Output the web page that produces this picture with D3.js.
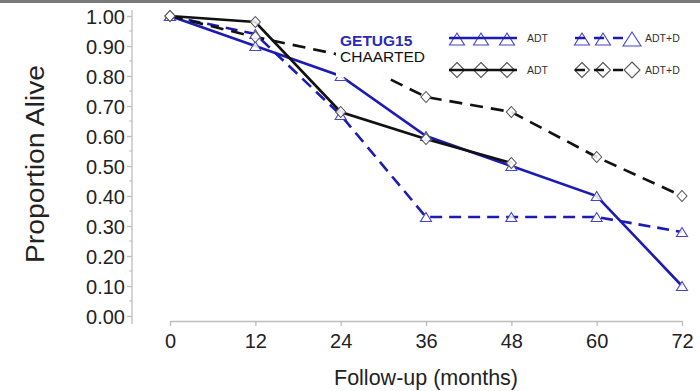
<!DOCTYPE html>
<html>
<head>
<meta charset="utf-8">
<script src="https://cdn.jsdelivr.net/npm/d3@7"></script>
<style>
  html, body { margin: 0; padding: 0; background: #fff; }
  svg { display: block; font-family: Arial, "Liberation Sans", Helvetica, sans-serif; }
</style>
</head>
<body>
<svg id="chart" width="700" height="391"></svg>
<script>
// Follow-up time points (months)
const months = [0, 12, 24, 36, 48, 60, 72];

// Proportion alive per study arm
const getugAdt  = [1.00, 0.90, 0.80, 0.60, 0.50, 0.40, 0.10];
const getugAdtD = [1.00, 0.94, 0.67, 0.33, 0.33, 0.33, 0.28];
const chaartedAdt  = [1.00, 0.98, 0.68, 0.59, 0.51];
const chaartedAdtD = [1.00, 0.93, 0.87, 0.73, 0.68, 0.53, 0.40];

const yTicks = [0, 0.1, 0.2, 0.3, 0.4, 0.5, 0.6, 0.7, 0.8, 0.9, 1.0];
const yMinorTicks = [0.05, 0.15, 0.25, 0.35, 0.45, 0.55, 0.65, 0.75, 0.85, 0.95];

const BLUE = "#1c1cb4";
const BLUE_MARK = "#4646c8";
const BLACK = "#111111";
const GREY_MARK = "#555555";

const series = [
  { name: "GETUG15 ADT",    values: getugAdt,     color: BLUE,  mark: BLUE_MARK, dash: null,   shape: "tri" },
  { name: "GETUG15 ADT+D",  values: getugAdtD,    color: BLUE,  mark: BLUE_MARK, dash: "12,7", shape: "tri" },
  { name: "CHAARTED ADT",   values: chaartedAdt,  color: BLACK, mark: GREY_MARK, dash: null,   shape: "dia" },
  { name: "CHAARTED ADT+D", values: chaartedAdtD, color: BLACK, mark: GREY_MARK, dash: "13,8", shape: "dia" }
];

const svg = d3.select("#chart");

// thin grey band along the top edge
svg.append("rect").attr("x", 0).attr("y", 0).attr("width", 700).attr("height", 3).attr("fill", "#7a7a7a");

const x = d3.scaleLinear().domain([0, 72]).range([170, 682]);
const y = d3.scaleLinear().domain([0, 1]).range([316, 16]);

const axisColor = "#bdbdbd";
const textColor = "#222";

// Y axis
const yAxisX = 132;
const yAxis = svg.append("g").attr("transform", `translate(${yAxisX},0)`)
  .call(d3.axisLeft(y).tickValues(yTicks).tickFormat(d3.format(".2f")).tickSize(5).tickSizeOuter(0));
yAxis.select(".domain").remove();
yAxis.append("line").attr("x1", 0).attr("x2", 0).attr("y1", 10).attr("y2", 324).attr("stroke", axisColor).attr("stroke-width", 1.3);
yAxis.selectAll(".tick line").attr("stroke", axisColor).attr("stroke-width", 1.3);
yAxis.selectAll(".tick text").attr("fill", textColor).attr("font-size", 20).attr("x", -7).attr("dy", "0.35em")
  .style("font-family", "Arial, 'Liberation Sans', sans-serif");
yAxis.selectAll(".minor").data(yMinorTicks).enter().append("line")
  .attr("x1", -3).attr("x2", 0).attr("y1", d => y(d)).attr("y2", d => y(d))
  .attr("stroke", axisColor).attr("stroke-width", 1);

// X axis
const xAxisY = 321;
const xAxis = svg.append("g").attr("transform", `translate(0,${xAxisY})`)
  .call(d3.axisBottom(x).tickValues(months).tickFormat(d3.format("d")).tickSize(5).tickSizeOuter(0));
xAxis.select(".domain").attr("stroke", axisColor).attr("stroke-width", 1.3);
xAxis.selectAll(".tick line").attr("stroke", axisColor).attr("stroke-width", 1.3);
xAxis.selectAll(".tick text").attr("fill", textColor).attr("font-size", 20).attr("y", 13)
  .style("font-family", "Arial, 'Liberation Sans', sans-serif");

// Axis titles
svg.append("text").attr("x", 426).attr("y", 385).attr("text-anchor", "middle")
  .attr("font-size", 21.5).attr("fill", textColor).text("Follow-up (months)");
svg.append("text").attr("transform", "translate(44,164) rotate(-90)").attr("text-anchor", "middle")
  .attr("font-size", 26).attr("fill", textColor)
  .attr("textLength", 198).attr("lengthAdjust", "spacingAndGlyphs")
  .text("Proportion Alive");

// Marker shapes
function triPath(w, h) {
  return `M0,${-h / 2}L${w / 2},${h / 2}L${-w / 2},${h / 2}Z`;
}
function diaPath(w, h) {
  return `M0,${-h / 2}L${w / 2},0L0,${h / 2}L${-w / 2},0Z`;
}
function markerPath(shape) {
  return shape === "tri" ? triPath(11, 9) : diaPath(10, 11);
}

const line = d3.line().x((d, i) => x(months[i])).y(d => y(d));

const plot = svg.append("g");
series.forEach(s => {
  plot.append("path").datum(s.values)
    .attr("d", line)
    .attr("fill", "none")
    .attr("stroke", s.color)
    .attr("stroke-width", 2.6)
    .attr("stroke-dasharray", s.dash);
});
series.forEach(s => {
  plot.selectAll(null).data(s.values).enter().append("path")
    .attr("transform", (d, i) => `translate(${x(months[i])},${y(d)})`)
    .attr("d", markerPath(s.shape))
    .attr("fill", "#fff")
    .attr("fill-opacity", 0.85)
    .attr("stroke", s.mark)
    .attr("stroke-width", 1.1);
});

// Legend panel
const legend = svg.append("g");
legend.append("rect").attr("x", 336).attr("y", 22).attr("width", 362).attr("height", 55).attr("fill", "#fff");
legend.append("text").attr("x", 340).attr("y", 46).attr("font-size", 15.5).attr("font-weight", 600)
  .attr("fill", "#2a2ab8").text("GETUG15");
legend.append("text").attr("x", 340).attr("y", 62).attr("font-size", 15.5).attr("fill", BLACK).text("CHAARTED");

const legendItems = [
  { s: series[0], x0: 449, x1: 517, marks: [457, 481, 507], big: [false, false, false], label: "ADT",   lx: 527, y: 38 },
  { s: series[1], x0: 575, x1: 640, marks: [582, 603, 632], big: [false, false, true],  label: "ADT+D", lx: 645, y: 38 },
  { s: series[2], x0: 449, x1: 517, marks: [457, 481, 507], big: [false, false, false], label: "ADT",   lx: 527, y: 70 },
  { s: series[3], x0: 575, x1: 640, marks: [582, 603, 632], big: [false, false, true],  label: "ADT+D", lx: 645, y: 70 }
];
legendItems.forEach(it => {
  const g = legend.append("g");
  g.selectAll(null).data(it.marks).enter().append("path")
    .attr("transform", (d, i) => `translate(${d},${it.y + (it.s.shape === "tri" ? 1 : 0)})`)
    .attr("d", (d, i) => it.s.shape === "tri" ? (it.big[i] ? triPath(18, 14) : triPath(15, 12)) : (it.big[i] ? diaPath(16, 16) : diaPath(15, 15)))
    .attr("fill", "#fff")
    .attr("stroke", it.s.mark)
    .attr("stroke-width", 1.1);
  g.append("line").attr("x1", it.x0).attr("x2", it.x1 - (it.s.dash ? 14 : 0)).attr("y1", it.y).attr("y2", it.y)
    .attr("stroke", it.s.color).attr("stroke-width", 2.4)
    .attr("stroke-dasharray", it.s.dash ? "10,9" : null);
  g.append("text").attr("x", it.lx).attr("y", it.y + 4).attr("font-size", 10.5).attr("fill", "#333").text(it.label);
});
</script>
</body>
</html>
